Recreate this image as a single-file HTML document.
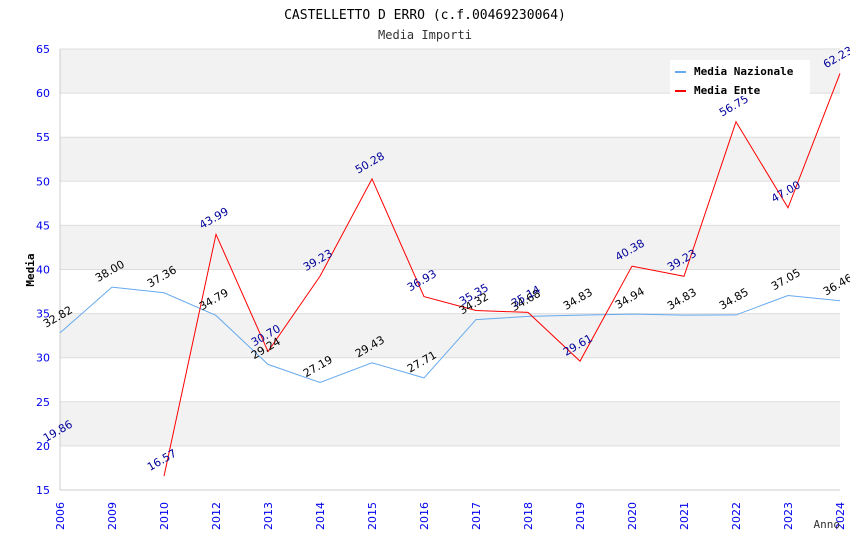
<!DOCTYPE html>
<html><head><meta charset="utf-8"><style>
body{margin:0;background:#fff;}
svg{display:block;font-family:"DejaVu Sans Mono","Liberation Mono",monospace;}
.s{font-family:"DejaVu Sans","Liberation Sans",sans-serif;}
</style></head><body>
<svg id="c" width="850" height="550">
<text x="425" y="19" text-anchor="middle" font-size="13" fill="#000">CASTELLETTO D ERRO (c.f.00469230064)</text>
<text x="425" y="39" text-anchor="middle" font-size="12" fill="#333">Media Importi</text>
<g id="grid"></g><g id="lines"></g><g id="labels"></g>
<text x="34" y="270" transform="rotate(-90 34 270)" text-anchor="middle" font-size="11" font-weight="bold" fill="#000">Media</text>
<text x="840" y="528" text-anchor="end" font-size="11" fill="#333">Anno</text>
<g>
<rect x="670" y="60" width="140" height="36" fill="#fff"/>
<rect x="675" y="71" width="11" height="2" fill="#66aaee"/>
<text x="694" y="75" font-size="11" font-weight="bold">Media Nazionale</text>
<rect x="675" y="90" width="11" height="2" fill="#ff0000"/>
<text x="694" y="94" font-size="11" font-weight="bold">Media Ente</text>
</g>
</svg>
<script>
const categories=["2006","2009","2010","2012","2013","2014","2015","2016","2017","2018","2019","2020","2021","2022","2023","2024"];
const nazionale=[32.82,38.00,37.36,34.79,29.24,27.19,29.43,27.71,34.32,34.68,34.83,34.94,34.83,34.85,37.05,36.46];
const ente=[19.86,null,16.57,43.99,30.70,39.23,50.28,36.93,35.35,35.14,29.61,40.38,39.23,56.75,47.00,62.23];
const yTicks=[15,20,25,30,35,40,45,50,55,60,65];
const NS="http://www.w3.org/2000/svg";
const L=60,R=840,T=49,B=490,yMin=15,yMax=65;
const xs=i=>L+i*(R-L)/(categories.length-1);
const ys=v=>B-(v-yMin)/(yMax-yMin)*(B-T);
function mk(p,tag,a){const e=document.createElementNS(NS,tag);for(const k in a)e.setAttribute(k,a[k]);p.appendChild(e);return e;}
const g=document.getElementById('grid'),ln=document.getElementById('lines'),lb=document.getElementById('labels');
for(let i=0;i<yTicks.length-1;i++){
  if(i%2===1){const r=mk(g,'rect',{x:L,y:ys(yTicks[i+1]),width:R-L,height:ys(yTicks[i])-ys(yTicks[i+1]),fill:'#f2f2f2'});
  
  }
}
yTicks.forEach(v=>{
  const l=mk(g,'line',{x1:L,x2:R,y1:ys(v),y2:ys(v),stroke:'#dddddd'});
  
  
  const t=mk(g,'text',{x:L-10,y:ys(v)+4,'text-anchor':'end','font-size':11,fill:'#0000ee',class:'s'});t.textContent=v;
  
  
});
mk(g,'line',{x1:L,x2:L,y1:T,y2:B,stroke:'#cccccc'});
mk(g,'line',{x1:L,x2:R,y1:B,y2:B,stroke:'#cccccc'});
categories.forEach((c,i)=>{
  const x=xs(i)+4,y=B+40;
  const t=mk(g,'text',{x:x,y:y,transform:`rotate(-90 ${x} ${y})`,'font-size':11,fill:'#0000ee',class:'s'});t.textContent=c;
  
  
});
function series(data,color,lblColor,name){
  let d='',pen=false;
  data.forEach((v,i)=>{if(v==null){pen=false;return;}d+=(pen?'L':'M')+xs(i)+' '+ys(v)+' ';pen=true;});
  const p=mk(ln,'path',{d:d,fill:'none',stroke:color,'stroke-width':1});
  
  
  data.forEach((v,i)=>{if(v==null)return;
    const x=xs(i)-14,y=ys(v)-5;
    const t=mk(lb,'text',{x:x,y:y,transform:`rotate(-30 ${x} ${y})`,'font-size':11,fill:lblColor,class:'s'});
    t.textContent=v.toFixed(2);
    
    
  });
}
series(nazionale,'#66aaee','#000','nazionale');
series(ente,'#ff0000','#000099','ente');
</script>
</body></html>
